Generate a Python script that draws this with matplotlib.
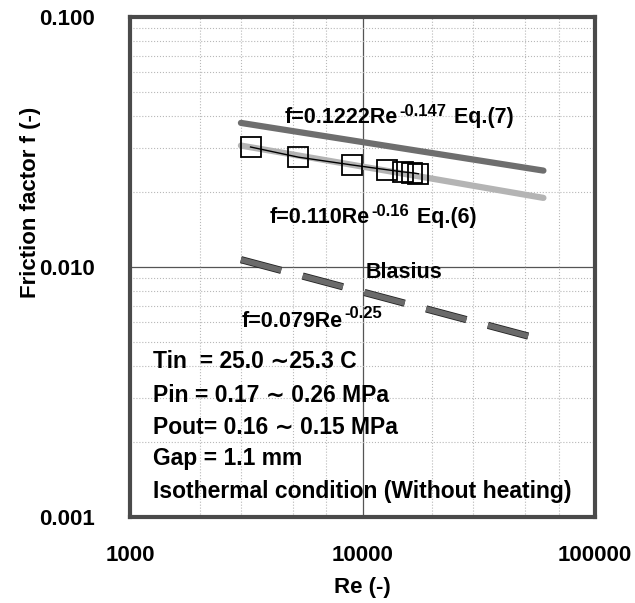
import numpy as np
import matplotlib
matplotlib.use('Agg')
import matplotlib.pyplot as plt
import matplotlib.patheffects as pe
from matplotlib.ticker import NullFormatter, LogLocator

plt.rcParams['font.family'] = ['Liberation Sans', 'DejaVu Sans']
plt.rcParams['font.weight'] = 'bold'

W, H = 635, 603

# measured data (squares)
re_data = [3300, 5300, 9000, 12700, 15000, 16400, 17400]
f_data = [0.0302, 0.0275, 0.0256, 0.0245, 0.0240, 0.0238, 0.0236]

# correlation lines, end points
re_line = [3000, 60000]
f_eq7 = [0.0377, 0.0243]
f_eq6 = [0.0306, 0.0189]
f_blasius = [0.0107, 0.0051]

conditions = ['Tin  = 25.0 \u223c25.3 C',
              'Pin = 0.17 \u223c 0.26 MPa',
              'Pout= 0.16 \u223c 0.15 MPa',
              'Gap = 1.1 mm',
              'Isothermal condition (Without heating)']

fig = plt.figure(figsize=(W / 100, H / 100), dpi=100)
ax = fig.add_axes([130 / W, 1 - 517 / H, 465 / W, 500 / H])
ax.set_xscale('log')
ax.set_yscale('log')
ax.set_xlim(1000, 100000)
ax.set_ylim(0.001, 0.1)

# grid
ax.xaxis.set_minor_locator(LogLocator(base=10, subs=(2, 3, 5, 7)))
ax.yaxis.set_minor_locator(LogLocator(base=10, subs=(2, 3, 4, 5, 6, 7, 8, 9)))
ax.xaxis.set_minor_formatter(NullFormatter())
ax.yaxis.set_minor_formatter(NullFormatter())
ax.grid(True, which='minor', color='#b8b8b8', linestyle=':', linewidth=0.8)
ax.axvline(10000, color='#555555', linewidth=0.9, zorder=1)
ax.axhline(0.01, color='#555555', linewidth=0.9, zorder=1)

# lines
ax.plot(re_line, f_eq7, color='#6e6e6e', linewidth=4.5, solid_capstyle='round', zorder=3)
ax.plot(re_line, f_eq6, color='#b4b4b4', linewidth=4.5, solid_capstyle='round', zorder=3)
ax.plot(re_line, f_blasius, color='#6a6a6a', linewidth=4.0, zorder=3,
        dashes=(7.5, 4.0), dash_capstyle='butt',
        path_effects=[pe.Stroke(linewidth=5.2, foreground='#222222'), pe.Normal()])

ax.plot(re_data, f_data, color='black', linewidth=1.0, marker='s', markersize=14,
        markerfacecolor='none', markeredgecolor='black', markeredgewidth=1.3, zorder=4)

renderer = fig.canvas.get_renderer()


def ptext(x, y, s, size, **kw):
    # x, y in pixels from top-left of the image, y is the baseline
    return fig.text(x / W, 1 - y / H, s, fontsize=size, va='baseline', ha='left', **kw)


def sup_label(x, y, base, sup, tail, size=15.5, supsize=12, rise=7):
    t = ptext(x, y, base, size)
    bb = t.get_window_extent(renderer)
    t2 = ptext(bb.x1 + 1, y - rise, sup, supsize)
    bb2 = t2.get_window_extent(renderer)
    if tail:
        ptext(bb2.x1 + 2, y, tail, size)


sup_label(285, 123, 'f=0.1222Re', '-0.147', ' Eq.(7)')
sup_label(270, 223, 'f=0.110Re', '-0.16', ' Eq.(6)')
ptext(366, 278, 'Blasius', 15.5)
sup_label(242, 327, 'f=0.079Re', '-0.25', '', rise=9)

y_rows = [368, 402, 434, 465, 498]
for txt, yp in zip(conditions, y_rows):
    ptext(153, yp, txt, 16.5)

ax.set_xticks([1000, 10000, 100000])
ax.set_xticklabels(['1000', '10000', '100000'])
ax.set_yticks([0.001, 0.01, 0.1])
ax.set_yticklabels(['0.001', '0.010', '0.100'])
for lab in ax.get_xticklabels() + ax.get_yticklabels():
    lab.set_fontweight('bold')
ax.tick_params(which='both', length=0, labelsize=16)
ax.tick_params(axis='x', pad=20)
ax.tick_params(axis='y', pad=25)

# axis titles placed where the reference has them
fig.text(362 / W, 1 - 588 / H, 'Re (-)', fontsize=16, fontweight='bold',
         ha='center', va='center')
fig.text(31 / W, 1 - 202 / H, 'Friction factor f (-)', fontsize=16, fontweight='bold',
         ha='center', va='center', rotation=90)

for s in ax.spines.values():
    s.set_linewidth(3)
    s.set_color('#4a4a4a')

fig.savefig('out.png', dpi=100)
